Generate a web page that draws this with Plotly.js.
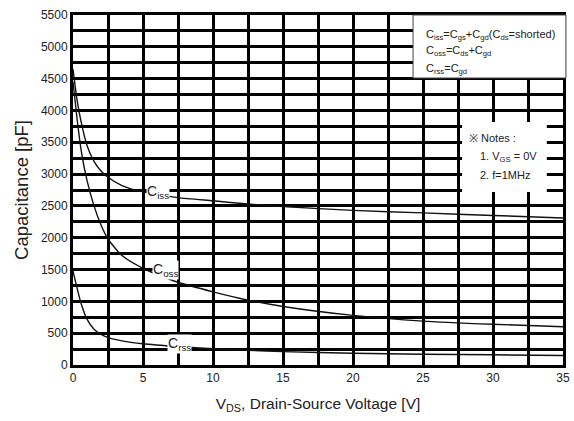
<!DOCTYPE html>
<html><head><meta charset="utf-8">
<script src="https://cdn.plot.ly/plotly-3.0.1.min.js"></script>
<style>html,body{margin:0;padding:0;background:#fff;}#chart{width:574px;height:421px;}</style>
</head><body><div id="chart"></div>
<script>
const vds = [0,0.3,0.6,1,1.5,2,2.5,3.5,5,7.5,10,12.5,15,20,25,30,35];
const ciss = [4650,4150,3800,3450,3200,3050,2950,2820,2720,2630,2580,2530,2490,2430,2390,2350,2310];
const coss = [4450,3850,3350,2900,2500,2200,1980,1720,1520,1300,1150,1020,920,780,690,640,600];
const crss = [1480,1200,950,720,560,480,430,380,335,290,255,230,210,185,170,160,150];

const curveNames = ['iss','oss','rss'];
const labelPos = [[6.1, 2720],[6.6, 1500],[7.6, 330]];

const legendLines = [
  'C<sub>iss</sub>=C<sub>gs</sub>+C<sub>gd</sub>(C<sub>ds</sub>=shorted)',
  'C<sub>oss</sub>=C<sub>ds</sub>+C<sub>gd</sub>',
  'C<sub>rss</sub>=C<sub>gd</sub>'
];
const noteLines = ['※ Notes :', '1. V<sub>GS</sub> = 0V', '2. f=1MHz'];

const line = {color:'#111', width:1.4, shape:'spline', smoothing:0.6};
const traces = [ciss, coss, crss].map((y,i)=>({x:vds, y:y, mode:'lines', line:line, name:'C'+curveNames[i], hoverinfo:'skip'}));

const font = {family:'"Liberation Sans", Arial, sans-serif', color:'#222'};
const annotations = curveNames.map((n,i)=>({
  x:labelPos[i][0], y:labelPos[i][1], xref:'x', yref:'y', showarrow:false,
  text:'C<sub>'+n+'</sub>', bgcolor:'white', borderpad:0,
  font:Object.assign({}, font, {size:14})
}));
const legY = [0.943, 0.897, 0.846];
legendLines.forEach((t,i)=>annotations.push({
  xref:'paper', yref:'paper', x:0.716, y:legY[i], xanchor:'left', yanchor:'middle', showarrow:false,
  text:t, font:Object.assign({}, font, {size:11})
}));
const noteX = [0.804, 0.827, 0.827];
const noteY = [0.649, 0.594, 0.543];
noteLines.forEach((t,i)=>annotations.push({
  xref:'paper', yref:'paper', x:noteX[i], y:noteY[i], xanchor:'left', yanchor:'middle', showarrow:false,
  text:t, font:Object.assign({}, font, {size:11})
}));

const shapes = [
  {type:'rect', xref:'paper', yref:'paper', x0:0.694, x1:1.006, y0:0.82, y1:1.0, layer:'above',
   fillcolor:'white', line:{color:'#444', width:1}},
  {type:'rect', xref:'paper', yref:'paper', x0:0.794, x1:0.967, y0:0.494, y1:0.694, layer:'above',
   fillcolor:'white', line:{width:0}}
];

const layout = {
  width:574, height:421,
  margin:{l:73, r:11, t:15, b:56},
  paper_bgcolor:'white', plot_bgcolor:'white',
  showlegend:false,
  font:font,
  xaxis:{range:[0,35], dtick:5, tick0:0, showgrid:true, gridcolor:'#000', gridwidth:3,
    minor:{dtick:2.5, showgrid:true, gridcolor:'#000', gridwidth:3},
    zeroline:false, showline:true, linecolor:'#000', linewidth:3, mirror:true,
    ticks:'', tickfont:{size:12, color:'#222'},
    title:{text:'V<sub>DS</sub>, Drain-Source Voltage [V]', font:{size:15.5, color:'#222'}, standoff:14}},
  yaxis:{range:[0,5500], dtick:500, tick0:0, showgrid:true, gridcolor:'#000', gridwidth:3,
    minor:{dtick:250, showgrid:true, gridcolor:'#000', gridwidth:3},
    zeroline:false, showline:true, linecolor:'#000', linewidth:3, mirror:true,
    ticks:'', tickfont:{size:12, color:'#222'},
    title:{text:'Capacitance [pF]', font:{size:18.5, color:'#222'}, standoff:8}},
  annotations:annotations,
  shapes:shapes
};
Plotly.newPlot('chart', traces, layout, {staticPlot:true, displayModeBar:false});
</script></body></html>
